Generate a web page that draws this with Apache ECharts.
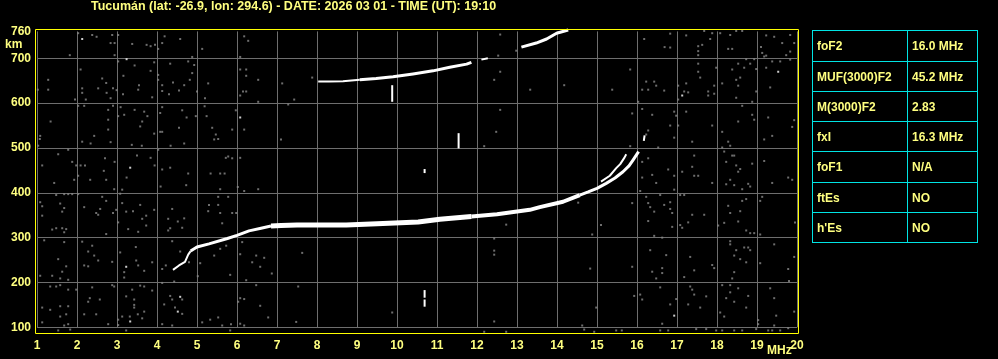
<!DOCTYPE html>
<html>
<head>
<meta charset="utf-8">
<script src="https://cdn.jsdelivr.net/npm/echarts@6/dist/echarts.min.js"></script>
<style>
html,body{margin:0;padding:0;background:#000;}
#chart{width:998px;height:359px;}
</style>
</head>
<body>
<div id="chart"></div>
<script>
// ---------- data ----------
const titleText = 'Tucumán (lat: -26.9, lon: 294.6) - DATE: 2026 03 01 - TIME (UT): 19:10';
const freqTicks = [1,2,3,4,5,6,7,8,9,10,11,12,13,14,15,16,17,18,19,20];
const heightTicks = [100,200,300,400,500,600,700];
const heightLabels = [100,200,300,400,500,600,700,760];
const paramNames = ['foF2','MUF(3000)F2','M(3000)F2','fxI','foF1','ftEs',"h'Es"];
const paramValues = ['16.0 MHz','45.2 MHz','2.83','16.3 MHz','N/A','NO','NO'];

// F2 ordinary trace (MHz, km)
const oFreq   = [4.40,4.55,4.70,4.78,4.84,5.00,5.30,5.76,6.00,6.30,6.60,6.85,7.10,7.50,8.00,8.73,9.50,10.53,11.07,11.86,12.50,13.32,13.57,14.15,14.57,14.78,15.00,15.23,15.45,15.65,15.80,15.90,16.04];
const oHeight = [228,238,246,262,270,279,286,298,305,315,321,326,327,328,328,328,331,335,341,347,352,362,368,380,395,402,410,421,433,447,460,473,492];
// F2 extraordinary trace
const xFreq   = [15.10,15.32,15.48,15.58,15.69,15.73];
const xHeight = [425,438,455,464,479,486];
const xTopFreq   = [16.17,16.19];
const xTopHeight = [516,528];
// second hop trace
const hop2Freq   = [8.03,8.30,8.65,9.07,9.48,9.90,10.40,10.90,11.32,11.74,11.86];
const hop2Height = [648,648,649,652,655,659,665,672,680,687,691];
const hop2bFreq   = [12.11,12.27];
const hop2bHeight = [697,700];
const hop2cFreq   = [13.11,13.48,13.74,13.99,14.28];
const hop2cHeight = [725,734,743,756,763];
// interference spikes
const spikeFreq = [9.88,11.54,10.69,10.69,10.69];
const spikeLow  = [603,499,444,146,166];
const spikeHigh = [640,533,453,162,183];

// background noise (MHz, km)
const noiseLow = [
[2.03,756],[2.38,752],[2.49,748],[2.88,752],[3.03,752],[2.84,734],[2.94,734],[3.38,732],[3.74,730],[3.84,727],[3.95,730],[4.13,734],[4.19,749],[4.58,743],[4.03,721],[5.13,721],[6.18,749],[6.28,739],[1.82,707],[2.94,707],[4.88,703],[6.08,703],
[3.03,693],[3.44,684],[3.93,691],[3.84,672],[4.33,688],[4.78,693],[4.93,685],[4.88,667],[5.28,644],[2.09,675],[2.63,655],[2.73,645],[2.90,633],[2.99,629],[2.53,633],[2.13,633],[2.13,623],[1.28,652],[1.28,630],[1.02,630],[2.74,623],[3.16,661],[3.15,620],[4.13,640],[4.13,627],[4.03,663],[4.03,652],[3.53,630],[3.88,613],[4.40,646],[4.68,640],[4.82,652],[4.55,628],[5.00,626],[5.20,611],[6.08,675],[6.23,675],[6.23,661],[6.53,652],[6.15,626],[6.23,626],[6.08,617],[6.53,603],[1.95,608],[2.22,608],[2.84,611],[4.30,620],[3.55,640],
[2.03,594],[2.18,594],[2.78,585],[2.90,594],[3.09,591],[3.18,574],[2.78,563],[3.03,571],[3.44,585],[3.68,581],[3.76,571],[3.63,559],[3.58,548],[4.13,591],[4.08,578],[4.63,584],[4.74,568],[4.55,545],[4.97,571],[5.19,593],[5.24,571],[5.38,545],[5.47,530],[5.53,520],[5.43,519],[5.88,541],[5.97,584],[6.18,541],[1.34,559],[1.08,527],[1.07,520],[2.43,527],[2.78,541],[2.84,513],[2.13,514],[2.34,510],[3.37,507],[3.62,505],[3.93,532],[4.08,536],[4.13,536],[4.34,505],[4.68,510],[1.03,505],
[1.53,486],[1.78,496],[1.88,469],[1.98,461],[2.09,461],[2.20,461],[2.70,477],[2.94,469],[3.50,483],[3.84,478],[3.94,461],[4.03,496],[4.13,452],[4.33,456],[4.78,443],[5.34,443],[5.58,443],[5.69,443],[5.72,478],[5.78,481],[5.88,477],[6.08,478],[1.13,461],[2.03,438],[2.67,449],[3.24,434],[1.43,422],[1.93,429],[2.33,429],[2.73,429],[4.09,414],[4.73,417],[5.58,408],[6.02,413],[6.18,404],[6.53,408],[3.13,407],[2.93,408],
[1.08,379],[1.13,370],[1.48,395],[1.68,397],[1.78,397],[1.88,397],[2.03,397],[1.58,376],[1.68,366],[1.63,358],[2.18,368],[2.63,391],[2.73,382],[2.58,364],[2.48,355],[2.53,351],[2.98,362],[2.90,355],[3.23,358],[3.40,359],[3.58,373],[3.93,362],[3.73,349],[3.13,377],[3.08,398],[3.63,342],[3.73,327],[3.28,319],[3.53,313],[3.03,334],[2.73,308],[1.38,318],[1.48,321],[1.63,321],[1.73,319],[1.68,312],[1.13,349],[4.28,342],[4.28,316],[4.33,321],[4.52,336],[4.38,364],[4.68,343],[4.63,322],[5.30,373],[5.28,359],[5.53,391],[5.53,373],[5.78,391],[5.58,355],[5.88,355],[5.98,355],[5.63,332],
[1.18,294],[1.68,290],[2.13,291],[2.28,269],[2.38,282],[2.43,260],[2.53,249],[1.53,252],[1.08,215],[1.38,215],[1.63,224],[1.73,236],[1.58,209],[1.78,206],[2.18,238],[2.28,236],[2.88,246],[3.08,267],[3.47,279],[3.48,249],[3.53,238],[3.68,226],[3.88,245],[3.18,211],[3.18,223],[4.13,230],[4.22,238],[4.38,292],[4.58,269],[4.80,245],[5.02,214],[5.43,260],[5.58,275],[5.73,282],[5.83,217],[6.08,263],[6.13,290],[6.38,245],[6.48,260],[6.68,255],[6.58,235],[6.23,205],[5.08,243],[4.43,202],
[1.33,191],[1.48,191],[1.58,194],[1.78,184],[1.98,184],[2.38,189],[2.88,194],[2.93,191],[3.38,184],[3.58,193],[3.68,191],[3.88,182],[4.13,199],[4.33,170],[4.38,162],[4.63,162],[4.63,130],[4.18,151],[4.45,144],[2.28,157],[2.32,165],[2.57,162],[3.43,162],[3.43,150],[3.23,169],[1.78,147],[1.58,147],[1.13,144],[1.33,139],[1.58,124],[1.73,129],[2.18,129],[2.48,129],[3.03,117],[3.13,124],[3.32,124],[3.52,129],[3.63,120],[3.68,135],[3.43,144],[1.13,111],[1.53,93],[1.68,104],[1.78,107],[1.83,95],[2.78,107],[3.03,105],[3.23,93],[4.13,107],[4.38,104],[5.13,111],[5.33,117],[5.53,122],[5.63,104],[5.83,93],[6.03,157],[6.08,165],[6.18,163],[6.48,194],[6.78,122],[6.58,148],[6.87,220],[5.85,107],[6.08,108],[6.18,104]
];
const noiseMid = [
[7.13,644],[7.88,657],[7.43,608],[7.28,597],[7.10,519],[12.58,753],[12.58,670],[12.43,652],[13.33,630],[14.18,640],[12.58,585],[12.48,536],[12.18,504],[12.53,706],[12.98,717],
[7.63,266],[7.53,191],[7.48,112],[9.88,133],[12.43,298],[12.43,271],[12.43,262],[12.73,329],[14.53,378],[14.88,307],[14.83,231],[14.98,144],[14.63,104],[14.68,95],[14.93,90],[12.18,90],[12.43,113],[12.73,90]
];
const noiseHigh = [
[16.83,755],[17.23,751],[16.18,743],[16.69,725],[16.83,724],[17.53,727],[17.53,716],[17.63,730],[17.83,743],[17.88,756],[18.08,756],[18.33,752],[18.48,761],[18.63,761],[19.23,751],[19.43,748],[19.63,734],[19.83,752],[19.93,734],[19.83,715],[19.73,707],[19.10,725],[19.13,712],[19.18,704],[18.28,721],[18.38,721],[17.53,707],[17.68,761],
[15.83,675],[15.38,630],[16.23,648],[16.43,648],[16.13,630],[16.28,630],[16.48,639],[16.68,628],[17.03,639],[17.23,644],[17.18,626],[17.28,624],[17.53,688],[17.53,670],[17.58,657],[17.78,626],[17.78,617],[17.93,639],[17.93,621],[17.98,679],[18.13,644],[18.38,675],[18.48,652],[18.53,688],[18.58,657],[18.53,639],[18.48,612],[18.68,679],[18.73,698],[18.83,688],[18.93,698],[18.98,676],[18.98,626],[18.88,603],[19.23,679],[19.33,635],[19.38,693],[19.58,693],[19.83,697],[19.23,706],[17.03,608],[16.03,603],
[16.13,587],[16.38,574],[15.88,577],[16.83,550],[16.93,581],[17.03,550],[17.23,581],[16.98,572],[16.28,539],[16.23,530],[16.93,523],[17.38,514],[17.88,550],[18.13,536],[18.28,514],[18.33,505],[18.53,559],[18.63,594],[18.88,574],[18.93,563],[19.28,568],[19.38,527],[19.18,519],[19.93,562],[19.88,547],[15.83,504],[16.53,501],
[16.28,477],[16.13,469],[16.38,440],[16.78,452],[16.93,438],[16.13,434],[16.48,422],[17.13,447],[17.38,458],[17.43,483],[17.43,438],[17.53,438],[17.88,422],[18.13,501],[18.18,492],[18.23,469],[18.38,483],[18.43,483],[18.48,461],[18.58,453],[18.53,447],[18.33,429],[18.23,419],[18.43,417],[18.63,408],[18.78,420],[18.83,414],[18.88,465],[19.18,471],[19.38,422],[19.78,434],[19.88,429],[16.93,407],[16.08,404],
[15.88,377],[16.23,391],[16.28,377],[16.33,368],[16.43,358],[16.58,395],[16.68,373],[16.83,379],[16.83,364],[16.88,355],[16.88,324],[17.08,395],[17.18,395],[17.08,328],[17.13,322],[17.28,334],[17.38,351],[17.68,351],[18.03,327],[18.18,333],[18.28,371],[18.33,355],[18.58,359],[18.63,382],[18.73,386],[18.73,316],[18.83,310],[18.93,310],[19.08,307],[19.13,391],[19.08,382],[18.53,336],[19.95,334],[15.10,328],[16.28,337],[16.43,304],[16.63,300],
[15.88,235],[16.33,272],[16.38,224],[16.48,209],[16.63,232],[16.63,221],[16.73,261],[17.18,212],[17.33,257],[17.43,227],[17.88,239],[17.93,232],[18.33,292],[18.33,285],[18.43,260],[18.48,272],[18.43,223],[18.38,209],[18.58,252],[18.68,278],[18.78,278],[18.83,272],[18.73,245],[19.08,243],[19.43,285],[19.78,230],[19.93,257],[19.80,203],
[15.93,170],[16.08,173],[16.13,162],[16.58,189],[16.83,151],[16.98,163],[17.33,191],[17.38,184],[17.43,173],[17.28,151],[17.58,144],[17.73,169],[18.08,133],[18.18,124],[18.13,194],[18.23,165],[18.33,194],[18.33,178],[18.43,157],[18.53,187],[18.73,144],[18.78,170],[19.33,187],[19.43,165],[19.48,126],[19.03,116],[19.03,107],[19.93,135],[16.63,108],[16.58,93],[16.78,93],[17.48,96],[17.73,96],[17.98,93],[18.13,93],[18.43,93],[18.63,93],[18.98,96],[19.28,93],[19.38,93],[19.43,104],[19.58,93],[19.78,98],[15.62,93],[15.48,93]
];
const noiseWhite = [[2.13,743],[3.24,698],[6.08,568],[3.33,456],[3.23,235],[4.58,168],[4.52,135],[3.33,113],[17.13,617],[19.53,670],[16.93,126]];

// ---------- styling ----------
const YEL = '#ffff80';
const FONT = '"Liberation Sans", Arial, sans-serif';
const GRIDC = '#6e6e6e';
const NOISEC = '#8a8a8a';
const CYAN = '#00e4e4';

const pairs = (f, h) => f.map((v, i) => [v, h[i]]);
function lineSeries(data, width) {
  return {
    type: 'line', data: data, showSymbol: false, symbol: 'none', clip: false,
    silent: true, animation: false,
    lineStyle: { color: '#ffffff', width: width, cap: 'butt', join: 'round' }
  };
}
function sliceBy(f, h, lo, hi) {
  const out = [];
  for (let i = 0; i < f.length; i++) if (f[i] >= lo && f[i] <= hi) out.push([f[i], h[i]]);
  return out;
}

const series = [];
const scatter = (data, color) => ({
  type: 'scatter', data: data, symbol: 'rect', symbolSize: 2, clip: false, silent: true,
  animation: false, itemStyle: { color: color }
});
series.push(scatter(noiseLow, NOISEC), scatter(noiseMid, NOISEC), scatter(noiseHigh, NOISEC), scatter(noiseWhite, '#ffffff'));

// O trace with varying thickness
series.push(lineSeries(sliceBy(oFreq, oHeight, 4.0, 4.84), 2));
series.push(lineSeries(sliceBy(oFreq, oHeight, 4.84, 6.85), 3));
series.push(lineSeries(sliceBy(oFreq, oHeight, 6.85, 11.86), 5));
series.push(lineSeries(sliceBy(oFreq, oHeight, 11.86, 14.57), 4));
series.push(lineSeries(sliceBy(oFreq, oHeight, 14.57, 16.1), 3));
// X trace
series.push(lineSeries(pairs(xFreq, xHeight), 2));
series.push(lineSeries(pairs(xTopFreq, xTopHeight), 2));
// second hop
series.push(lineSeries(sliceBy(hop2Freq, hop2Height, 8.0, 9.07), 2));
series.push(lineSeries(sliceBy(hop2Freq, hop2Height, 9.07, 11.9), 3));
series.push(lineSeries(pairs(hop2bFreq, hop2bHeight), 2));
series.push(lineSeries(pairs(hop2cFreq, hop2cHeight), 3));
// spikes
for (let i = 0; i < spikeFreq.length; i++) {
  series.push(lineSeries([[spikeFreq[i], spikeLow[i]], [spikeFreq[i], spikeHigh[i]]], 2));
}

// ---------- table graphic ----------
const tableX = [812, 907, 977];
const tableY = [30, 61, 91, 121, 151, 182, 212, 242];
const graphics = [];
graphics.push({
  type: 'rect', silent: true, z: 100,
  shape: { x: 35.5, y: 29.5, width: 763, height: 304 },
  style: { fill: 'none', stroke: '#ffff00', lineWidth: 1 }
});
tableY.forEach(y => graphics.push({
  type: 'line', silent: true,
  shape: { x1: tableX[0], y1: y + 0.5, x2: tableX[2] + 1, y2: y + 0.5 },
  style: { stroke: CYAN, lineWidth: 1 }
}));
tableX.forEach(x => graphics.push({
  type: 'line', silent: true,
  shape: { x1: x + 0.5, y1: tableY[0], x2: x + 0.5, y2: tableY[tableY.length - 1] + 1 },
  style: { stroke: CYAN, lineWidth: 1 }
}));
paramNames.forEach((n, i) => {
  const cy = (tableY[i] + tableY[i + 1]) / 2 + 1.5;
  graphics.push({ type: 'text', silent: true, x: 817, y: cy,
    style: { text: n, fill: YEL, font: 'bold 12px ' + FONT, align: 'left', verticalAlign: 'middle' } });
  graphics.push({ type: 'text', silent: true, x: 912, y: cy,
    style: { text: paramValues[i], fill: YEL, font: 'bold 12px ' + FONT, align: 'left', verticalAlign: 'middle' } });
});
graphics.push({ type: 'text', silent: true, x: 5, y: 45,
  style: { text: 'km', fill: YEL, font: 'bold 12px ' + FONT, align: 'left', verticalAlign: 'middle' } });
graphics.push({ type: 'text', silent: true, x: 767, y: 351,
  style: { text: 'MHz', fill: YEL, font: 'bold 12px ' + FONT, align: 'left', verticalAlign: 'middle' } });
graphics.push({ type: 'text', silent: true, x: 91, y: 7,
  style: { text: titleText, fill: YEL, font: 'bold 12.5px ' + FONT, align: 'left', verticalAlign: 'middle' } });

const chart = echarts.init(document.getElementById('chart'), null, { renderer: 'canvas' });
chart.setOption({
  backgroundColor: '#000000',
  animation: false,
  grid: { left: 37, right: 201, top: 31.4, bottom: 31.7, containLabel: false },
  xAxis: {
    type: 'value', min: 1, max: 20, interval: 1,
    axisLine: { show: false }, axisTick: { show: false },
    splitLine: { show: true, lineStyle: { color: GRIDC, width: 1 } },
    axisLabel: { color: YEL, fontSize: 12, fontWeight: 'bold', fontFamily: FONT, margin: 12,
      showMinLabel: true, showMaxLabel: true, customValues: freqTicks }
  },
  yAxis: {
    type: 'value', min: 100, max: 760,
    axisLine: { show: false },
    axisTick: { show: false, customValues: heightTicks },
    splitLine: { show: true, lineStyle: { color: GRIDC, width: 1 } },
    axisLabel: { color: YEL, fontSize: 12, fontWeight: 'bold', fontFamily: FONT, margin: 6,
      showMinLabel: true, showMaxLabel: true, customValues: heightLabels }
  },
  graphic: graphics,
  series: series
});
</script>
</body>
</html>
